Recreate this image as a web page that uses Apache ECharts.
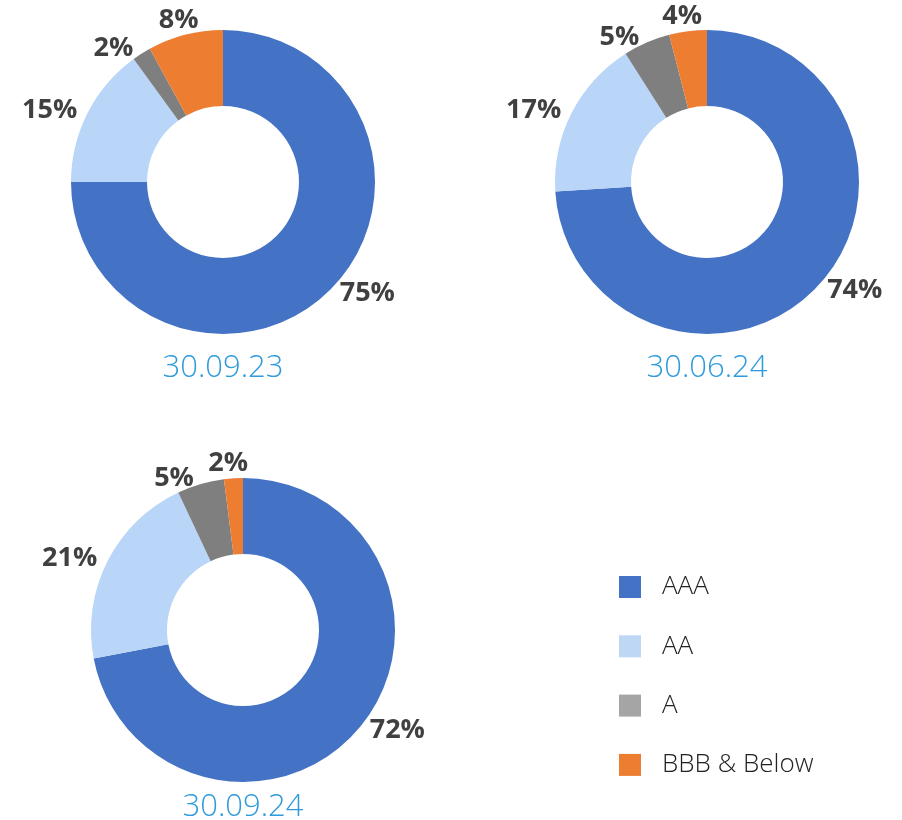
<!DOCTYPE html>
<html><head><meta charset="utf-8">
<script src="https://cdn.jsdelivr.net/npm/echarts@6/dist/echarts.min.js"></script>
<style>html,body{margin:0;padding:0;background:#fff}#c{width:902px;height:820px}</style>
</head><body><div id="c"></div>
<script>
const categories = ['AAA', 'AA', 'A', 'BBB & Below'];
const periods = ['30.09.23', '30.06.24', '30.09.24'];
const values_300923 = [75, 15, 2, 8];
const values_300624 = [74, 17, 5, 4];
const values_300924 = [72, 21, 5, 2];
const sliceColors = ['#4472C4', '#B9D5F7', '#7F7F7F', '#ED7D31'];
const legendColors = ['#4472C4', '#BDD7F5', '#A5A5A5', '#ED7D31'];

const allValues = [values_300923, values_300624, values_300924];
const centers = [[223, 182], [707, 182], [243, 630]];
const titleTop = [353, 353, 792];

// slices whose middle sits near 12 o'clock get a centred label (as in the source)
function midAngle(vals, idx) {
  const total = vals.reduce((a, b) => a + b, 0);
  let cum = 0;
  for (let k = 0; k < idx; k++) cum += vals[k];
  return (cum + vals[idx] / 2) / total * 360;
}

const chart = echarts.init(document.getElementById('c'), null, {renderer: 'canvas'});
const series = allValues.map((vals, i) => ({
  type: 'pie',
  name: periods[i],
  center: centers[i],
  radius: [76, 152],
  startAngle: 90,
  clockwise: true,
  avoidLabelOverlap: false,
  silent: true,
  label: {
    show: true,
    position: 'outside',
    formatter: '{c}%',
    fontFamily: 'Open Sans',
    fontWeight: 'bold',
    fontSize: 27,
    color: '#404040'
  },
  labelLine: {show: false, length: 6, length2: 0},
  labelLayout: function (p) {
    const a = midAngle(allValues[p.seriesIndex], p.dataIndex);
    const offTop = Math.min(a, 360 - a);
    if (offTop < 15) return {align: 'center', verticalAlign: 'bottom', dy: 5};
    return {};
  },
  itemStyle: {borderWidth: 0},
  data: categories.map((c, k) => ({name: c, value: vals[k], itemStyle: {color: sliceColors[k]}}))
}));

chart.setOption({
  animation: false,
  title: periods.map((p, i) => ({
    text: p,
    left: centers[i][0],
    top: titleTop[i],
    padding: 0,
    textAlign: 'center',
    textStyle: {fontFamily: 'Open Sans', fontWeight: 300, fontSize: 31, color: '#2E9BDA'}
  })),
  legend: {
    orient: 'vertical',
    left: 619,
    top: 574,
    padding: 0,
    itemWidth: 22,
    itemHeight: 22,
    itemGap: 33.3,
    icon: 'rect',
    selectedMode: false,
    textStyle: {fontFamily: 'Open Sans', fontWeight: 300, fontSize: 26, lineHeight: 22, color: '#222', padding: [0, 0, 0, 16]},
    data: categories.map((c, k) => ({name: c, itemStyle: {color: legendColors[k]}}))
  },
  series: series
});
</script></body></html>
